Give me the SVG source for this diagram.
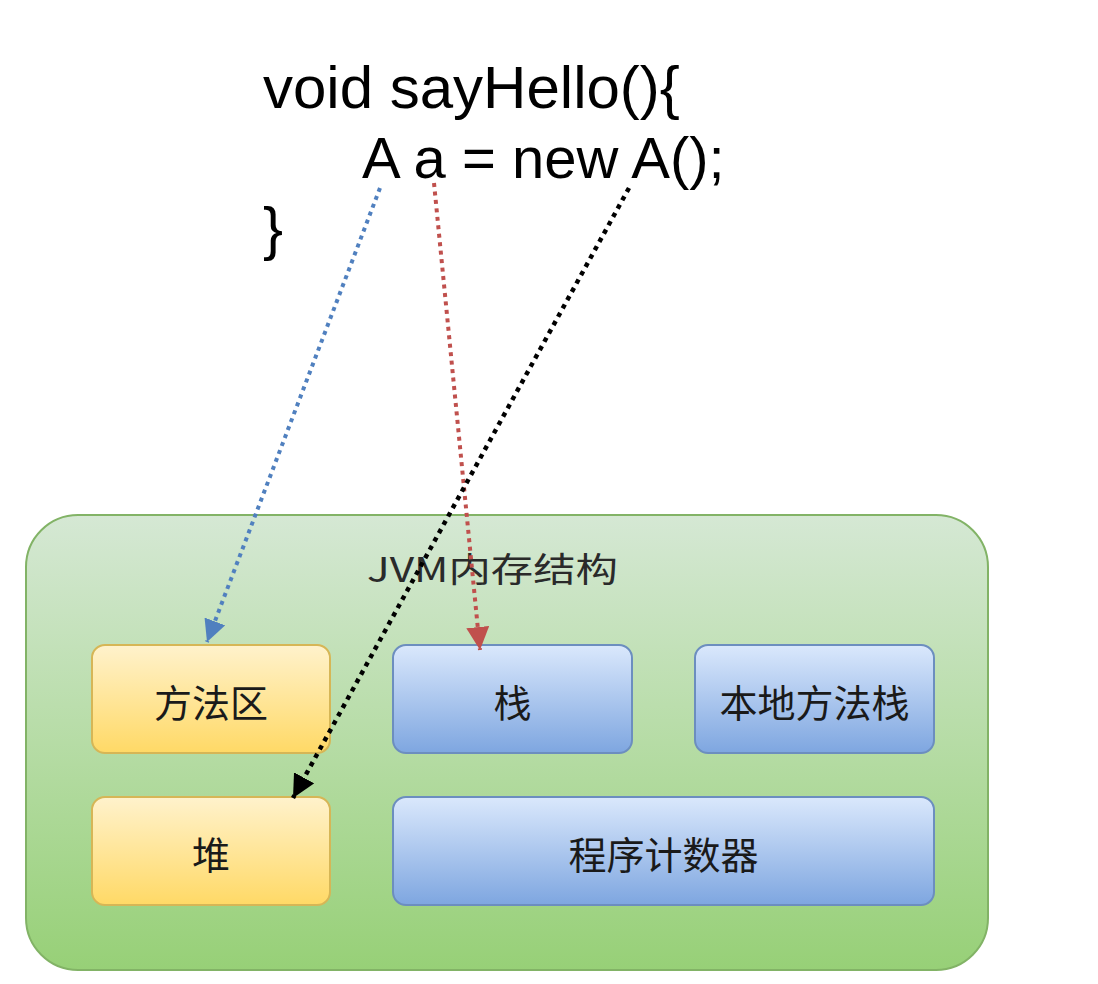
<svg xmlns="http://www.w3.org/2000/svg" width="1098" height="984" viewBox="0 0 1098 984">
  <style>
    .code { font-family: "Liberation Sans", Arial, sans-serif; font-size: 60px; fill: #000; }
    .title { font-family: "Noto Sans CJK SC", "Liberation Sans", sans-serif; font-size: 34px; fill: #2a2a2a; }
    .lbl { font-family: "Noto Sans CJK SC", sans-serif; font-size: 38px; fill: #1a1a1a; text-anchor: middle; dominant-baseline: central; }
    .yel { fill: url(#gYel); stroke: #d6b656; stroke-width: 2; }
    .blu { fill: url(#gBlu); stroke: #6c8ebf; stroke-width: 2; }
    .conn { fill: none; }
  </style>
  <defs>
    <linearGradient id="gGreen" x1="0" y1="0" x2="0" y2="1">
      <stop offset="0" stop-color="#d5e8d4"/>
      <stop offset="1" stop-color="#97d077"/>
    </linearGradient>
    <linearGradient id="gYel" x1="0" y1="0" x2="0" y2="1">
      <stop offset="0" stop-color="#fff2cc"/>
      <stop offset="1" stop-color="#ffd966"/>
    </linearGradient>
    <linearGradient id="gBlu" x1="0" y1="0" x2="0" y2="1">
      <stop offset="0" stop-color="#dae8fc"/>
      <stop offset="1" stop-color="#7ea6e0"/>
    </linearGradient>
    <marker id="mBlue" viewBox="0 0 22 22" refX="22" refY="11" markerWidth="22" markerHeight="22" markerUnits="userSpaceOnUse" orient="auto">
      <path d="M0,0 L22,11 L0,22 z" fill="#5080bf"/>
    </marker>
    <marker id="mRed" viewBox="0 0 22 22" refX="22" refY="11" markerWidth="23" markerHeight="23" markerUnits="userSpaceOnUse" orient="auto">
      <path d="M0,0 L22,11 L0,22 z" fill="#c0504d"/>
    </marker>
    <marker id="mBlack" viewBox="0 0 22 22" refX="22" refY="11" markerWidth="23" markerHeight="23" markerUnits="userSpaceOnUse" orient="auto">
      <path d="M0,0 L22,11 L0,22 z" fill="#000"/>
    </marker>
  </defs>
  <rect width="1098" height="984" fill="#ffffff"/>

  <g id="code">
    <text class="code" x="263" y="108">void sayHello(){</text>
    <text class="code" x="362" y="178" style="font-size:58px">A a = new A();</text>
    <text class="code" x="263" y="249">}</text>
  </g>

  <g id="jvm">
    <rect x="26" y="515" width="962" height="455" rx="52" ry="52" fill="url(#gGreen)" stroke="#82b366" stroke-width="2"/>
    <text class="title" x="367" y="582" textLength="251" lengthAdjust="spacingAndGlyphs">JVM内存结构</text>
  </g>

  <g id="method-area">
    <rect class="yel" x="92" y="645" width="238" height="108" rx="13" ry="13"/>
    <text class="lbl" x="211" y="700">方法区</text>
  </g>
  <g id="stack">
    <rect class="blu" x="393" y="645" width="239" height="108" rx="13" ry="13"/>
    <text class="lbl" x="512.5" y="700">栈</text>
  </g>
  <g id="native-stack">
    <rect class="blu" x="695" y="645" width="239" height="108" rx="13" ry="13"/>
    <text class="lbl" x="814.5" y="700">本地方法栈</text>
  </g>
  <g id="heap">
    <rect class="yel" x="92" y="797" width="238" height="108" rx="13" ry="13"/>
    <text class="lbl" x="211" y="852">堆</text>
  </g>
  <g id="pc">
    <rect class="blu" x="393" y="797" width="541" height="108" rx="13" ry="13"/>
    <text class="lbl" x="663.5" y="852">程序计数器</text>
  </g>

  <g id="connectors" class="conn">
    <line x1="380" y1="188" x2="207" y2="642" stroke="#5080bf" stroke-width="4" stroke-dasharray="4 4.5" marker-end="url(#mBlue)"/>
    <line x1="434" y1="183" x2="480" y2="650" stroke="#c0504d" stroke-width="4" stroke-dasharray="4 4.5" marker-end="url(#mRed)"/>
    <line x1="629" y1="188" x2="293" y2="798" stroke="#000" stroke-width="4.5" stroke-dasharray="4.5 5" marker-end="url(#mBlack)"/>
  </g>
</svg>
